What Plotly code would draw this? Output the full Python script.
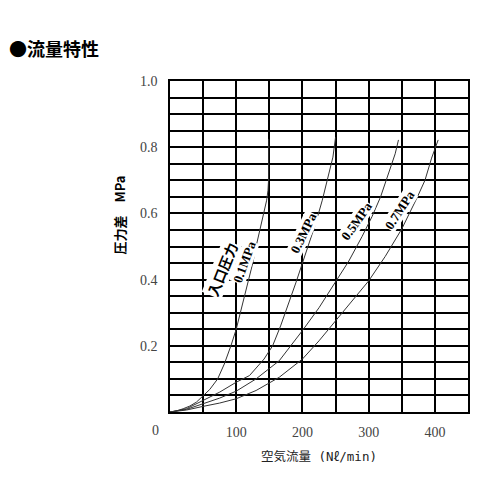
"""
Flow characteristics chart (pressure difference vs. air flow) for a regulator.
"""

import plotly.graph_objects as go

# Curve data: flow (Nl/min) vs. pressure difference (MPa)
flow_01 = [0, 10, 20, 30, 40, 50, 60, 72, 82, 92, 100, 105, 110, 115, 119, 125,
           130, 136, 142, 146, 148, 148.8, 149, 149]
dp_01 = [0, 0.003, 0.01, 0.018, 0.03, 0.05, 0.068, 0.1, 0.145, 0.2, 0.25, 0.29,
         0.33, 0.37, 0.4, 0.45, 0.5, 0.55, 0.6, 0.64, 0.67, 0.70, 0.75, 0.825]

flow_03 = [0, 25, 50, 75, 100, 120, 142, 155, 167, 180, 190, 200, 210, 220, 230,
           240, 246, 250]
dp_03 = [0, 0.01, 0.035, 0.06, 0.09, 0.11, 0.16, 0.2, 0.26, 0.33, 0.39, 0.45,
         0.51, 0.57, 0.64, 0.72, 0.77, 0.83]

flow_05 = [0, 25, 50, 75, 100, 130, 165, 200, 225, 250, 270, 290, 305, 318, 330,
           340, 345]
dp_05 = [0, 0.008, 0.025, 0.042, 0.063, 0.1, 0.155, 0.246, 0.315, 0.395, 0.456,
         0.53, 0.59, 0.65, 0.72, 0.78, 0.822]

flow_07 = [0, 25, 50, 75, 100, 130, 165, 200, 225, 250, 275, 300, 325, 350, 373,
           385, 395, 405]
dp_07 = [0, 0.006, 0.017, 0.027, 0.04, 0.065, 0.105, 0.16, 0.215, 0.276, 0.335,
         0.396, 0.47, 0.553, 0.647, 0.7, 0.767, 0.822]

curves = [(flow_01, dp_01), (flow_03, dp_03), (flow_05, dp_05), (flow_07, dp_07)]

# Tick labels
x_ticks = [100, 200, 300, 400]
y_ticks = [0.2, 0.4, 0.6, 0.8, 1.0]
y_ticktext = ["0.2", "0.4", "0.6", "0.8", "1.0"]
origin_label = "0"

# Texts
title_text = "●流量特性"
x_title = "空気流量 (Nℓ/min)"
y_title = "圧力差　MPa"

# Curve labels: text, x, y, angle
label_text = ["入口圧力", "0.1MPa", "0.3MPa", "0.5MPa", "0.7MPa"]
label_x = [79, 112, 201, 281, 346]
label_y = [0.432, 0.452, 0.54, 0.576, 0.61]
label_angle = [-68, -70, -64, -55, -57]

fig = go.Figure()

for fx, dp in curves:
    fig.add_trace(go.Scatter(
        x=fx, y=dp,
        mode="lines",
        line=dict(color="#333333", width=1),
        hoverinfo="skip",
    ))

# Labels along the curves (white box hides grid lines behind them)
for i, txt in enumerate(label_text):
    is_cjk = i == 0
    fig.add_annotation(
        x=label_x[i], y=label_y[i],
        text="<b>%s</b>" % txt,
        showarrow=False,
        textangle=label_angle[i],
        bgcolor="white",
        borderpad=0,
        font=dict(
            family="Noto Sans CJK JP" if is_cjk else "Liberation Serif",
            size=14 if is_cjk else 13,
            color="black",
        ),
        xanchor="center", yanchor="middle",
    )

# Corner "0" label shared by both axes
fig.add_annotation(
    xref="paper", yref="paper",
    x=-0.047, y=-0.055,
    text=origin_label,
    showarrow=False,
    font=dict(family="Liberation Serif", size=14, color="#444444"),
    xanchor="center", yanchor="middle",
)

# Title
fig.add_annotation(
    xref="paper", yref="paper",
    x=-0.547, y=1.10,
    text="<b>%s</b>" % title_text,
    showarrow=False,
    font=dict(family="Noto Sans CJK JP", size=18, color="black"),
    xanchor="left", yanchor="middle",
)

# Y axis title, sitting higher than the plot centre as in the reference
fig.add_annotation(
    xref="paper", yref="paper",
    x=-0.17, y=0.595,
    text="<b>%s</b>" % y_title,
    textangle=-90,
    showarrow=False,
    font=dict(family="Noto Sans CJK JP", size=13, color="black"),
    xanchor="center", yanchor="middle",
)

grid_style = dict(showgrid=True, gridcolor="black", gridwidth=1.5)

# page body adds an 8px offset, so margins are trimmed to compensate
fig.update_layout(
    width=500, height=500,
    margin=dict(l=162, r=40, t=73, b=96),
    plot_bgcolor="white",
    paper_bgcolor="white",
    showlegend=False,
    xaxis=dict(
        range=[0, 450],
        tickvals=x_ticks,
        ticks="",
        ticklabelstandoff=6,
        tickfont=dict(family="Liberation Serif", size=14, color="#444444"),
        minor=dict(dtick=50, tick0=0, ticks="", **grid_style),
        showline=True, linecolor="black", linewidth=1.5, mirror=True,
        zeroline=False,
        title=dict(text=x_title, standoff=14,
                   font=dict(family="DejaVu Sans Mono, Noto Sans CJK JP", size=12.5, color="#222222")),
        **grid_style,
    ),
    yaxis=dict(
        range=[0, 1.0],
        tickvals=y_ticks,
        ticktext=y_ticktext,
        ticks="",
        ticklabelstandoff=8,
        tickfont=dict(family="Liberation Serif", size=14, color="#444444"),
        minor=dict(dtick=0.05, tick0=0, ticks="", **grid_style),
        showline=True, linecolor="black", linewidth=1.5, mirror=True,
        zeroline=False,
        **grid_style,
    ),
)

fig.write_html("out.html")
